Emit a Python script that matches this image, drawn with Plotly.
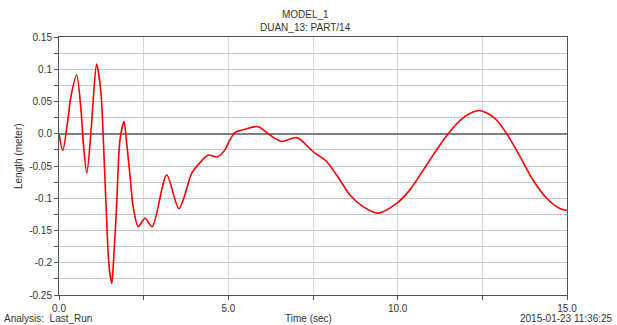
import plotly.graph_objects as go

# Time (sec) and Length (meter)
time_s = [0.0, 0.11, 0.26, 0.35, 0.52, 0.65, 0.72, 0.82, 0.94, 1.01, 1.11, 1.24, 1.31, 1.39, 1.48,
          1.56, 1.60, 1.70, 1.80, 1.92, 2.0, 2.10, 2.19, 2.34, 2.54, 2.75, 3.18, 3.54, 3.92, 4.11,
          4.41, 4.67, 4.90, 5.03, 5.20, 5.49, 5.88, 6.23, 6.57, 7.02, 7.51, 7.90, 8.30, 8.59, 8.98,
          9.43, 9.97, 10.36, 10.76, 11.15, 11.49, 11.94, 12.41, 12.87, 13.22, 13.61, 14.00, 14.40,
          14.79, 15.0]
length_m = [0.0, -0.026, 0.021, 0.057, 0.091, 0.037, -0.015, -0.061, 0.0, 0.052, 0.108, 0.063, -0.01, -0.113, -0.206,
            -0.232, -0.206, -0.113, -0.01, 0.019, -0.015, -0.067, -0.113, -0.144, -0.131, -0.144, -0.064, -0.116, -0.061, -0.048,
            -0.033, -0.036, -0.025, -0.011, 0.002, 0.007, 0.011, -0.002, -0.012, -0.006, -0.028, -0.043, -0.072, -0.095, -0.113,
            -0.123, -0.108, -0.087, -0.056, -0.025, 0.0, 0.025, 0.036, 0.024, 0.0, -0.035, -0.072, -0.100,
            -0.116, -0.119]

y_tickvals = [0.15, 0.125, 0.1, 0.075, 0.05, 0.025, 0.0, -0.025, -0.05, -0.075, -0.1, -0.125,
              -0.15, -0.175, -0.2, -0.225, -0.25]
y_ticktext = ["0.15", "", "0.1", "", "0.05", "", "0.0", "", "-0.05", "", "-0.1", "",
              "-0.15", "", "-0.2", "", "-0.25"]
x_tickvals = [0, 2.5, 5, 7.5, 10, 12.5, 15]
x_ticktext = ["0.0", "", "5.0", "", "10.0", "", "15.0"]

title_lines = ["MODEL_1", "DUAN_13: PART/14"]
x_title = "Time (sec)"
y_title = "Length (meter)"
analysis_text = "Analysis:  Last_Run"
date_text = "2015-01-23 11:36:25"

W, H = 617, 325
ML, MR, MT, MB = 59, 50, 37, 30

font = dict(family="Liberation Sans, Arial, sans-serif", size=10, color="#333333")

fig = go.Figure()
fig.add_trace(go.Scatter(
    x=time_s, y=length_m, mode="lines",
    line=dict(color="#ff0000", width=1.6, shape="spline", smoothing=0.8),
    hoverinfo="skip", showlegend=False))

fig.update_layout(
    width=W, height=H,
    margin=dict(l=ML, r=MR, t=MT, b=MB),
    paper_bgcolor="white", plot_bgcolor="white",
    font=font,
    showlegend=False,
    xaxis=dict(range=[0, 15], tickmode="array", tickvals=x_tickvals, ticktext=x_ticktext,
               showgrid=True, gridcolor="#d9d9d9", gridwidth=1,
               zeroline=False, showline=True, linecolor="#555555", linewidth=1, mirror=True,
               ticks="outside", ticklen=4, tickcolor="#555555", tickfont=font),
    yaxis=dict(range=[-0.25, 0.15], tickmode="array", tickvals=y_tickvals, ticktext=y_ticktext,
               showgrid=True, gridcolor="#c8c8c8", gridwidth=1,
               zeroline=True, zerolinecolor="#808080", zerolinewidth=2,
               showline=True, linecolor="#555555", linewidth=1, mirror=True,
               ticks="outside", ticklen=4, tickcolor="#555555", tickfont=font),
)


def px_to_paper_x(px):
    return (px - ML) / (W - ML - MR)


def px_to_paper_y(py):
    return (H - MB - py) / (H - MT - MB)


def add_text(text, px, py, xanchor="center", angle=0):
    fig.add_annotation(text=text, x=px_to_paper_x(px), y=px_to_paper_y(py), xref="paper", yref="paper",
                       showarrow=False, xanchor=xanchor, yanchor="middle", textangle=angle, font=font)


add_text(title_lines[0], 305, 14)
add_text(title_lines[1], 305, 28)
add_text(x_title, 308, 318)
add_text(analysis_text, 2, 318, xanchor="left")
add_text(date_text, 615, 318, xanchor="right")
add_text(y_title, 18, 156, angle=-90)

fig.write_html("out.html", config={"displayModeBar": False},
               post_script="document.body.style.margin='0';document.body.style.padding='0';")
